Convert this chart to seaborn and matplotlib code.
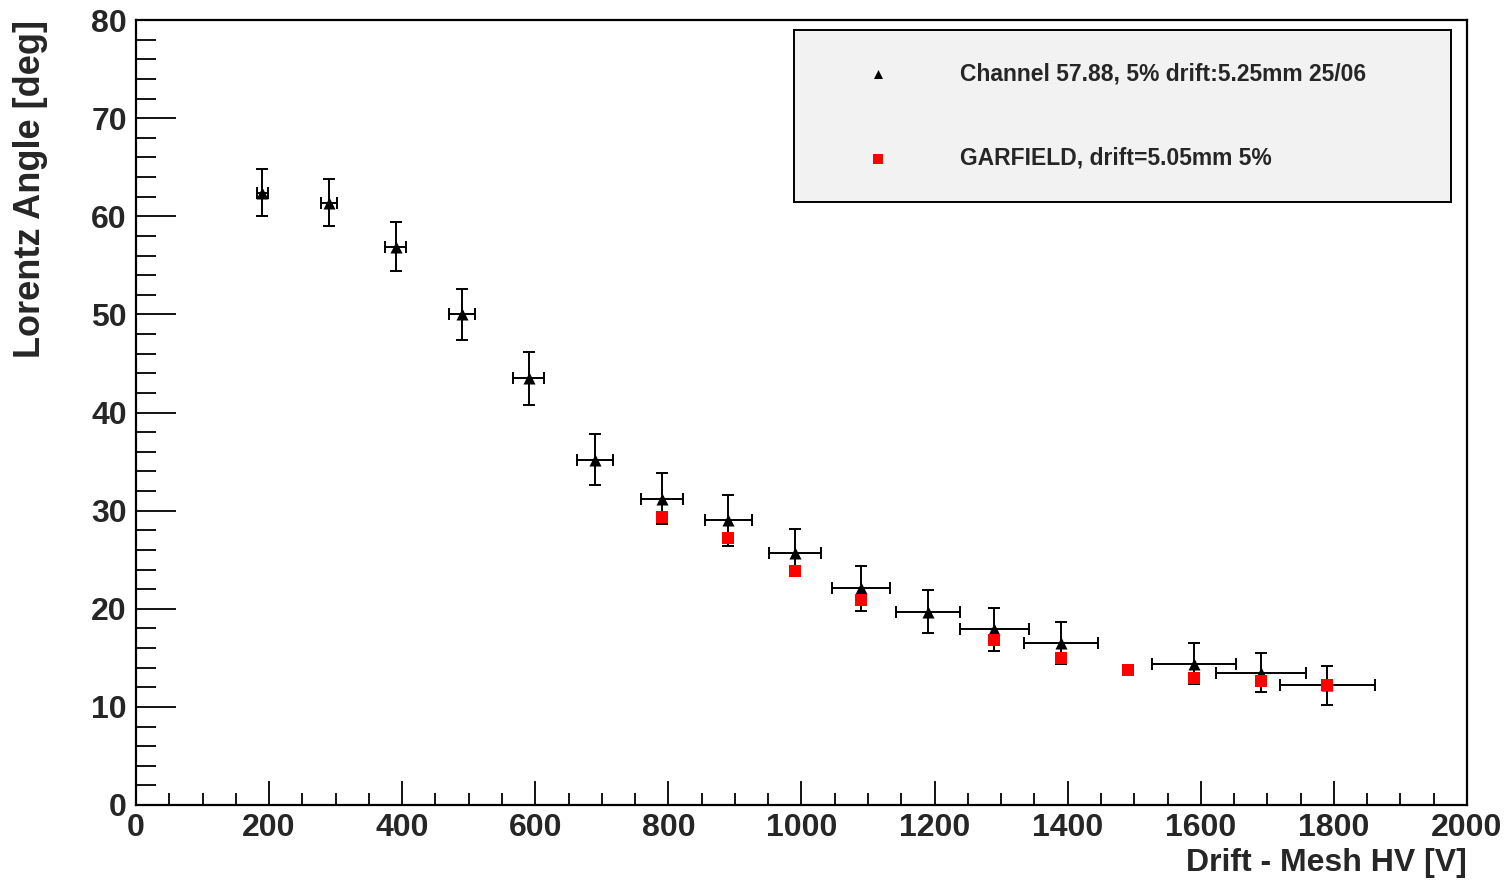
import numpy as np
import pandas as pd
import matplotlib
matplotlib.use("Agg")
import matplotlib.pyplot as plt
import seaborn as sns
from matplotlib.ticker import MultipleLocator

# ---- data ----
hv_meas = [190, 290, 390, 490, 590, 690, 790, 890, 990, 1090, 1190, 1290, 1390, 1590, 1690, 1790]
angle_meas = [62.4, 61.4, 56.9, 50.0, 43.5, 35.2, 31.2, 29.0, 25.7, 22.1, 19.7, 17.9, 16.5, 14.4, 13.5, 12.2]
hv_err = [8, 12.5, 15.5, 19.5, 23.5, 27.5, 31.5, 35.5, 39.5, 43.5, 47.5, 51.5, 55.5, 63.5, 67.5, 71.5]
angle_err = [2.4, 2.4, 2.5, 2.6, 2.7, 2.6, 2.6, 2.6, 2.4, 2.3, 2.2, 2.2, 2.1, 2.1, 2.0, 2.0]

hv_garf = [790, 890, 990, 1090, 1290, 1390, 1490, 1590, 1690, 1790]
angle_garf = [29.4, 27.2, 23.8, 20.9, 16.8, 14.95, 13.8, 12.9, 12.6, 12.2]

label_meas = "Channel 57.88, 5% drift:5.25mm 25/06"
label_garf = "GARFIELD, drift=5.05mm 5%"
xlabel = "Drift - Mesh HV [V]"
ylabel = "Lorentz Angle [deg]"

meas = pd.DataFrame({"hv": hv_meas, "angle": angle_meas, "xerr": hv_err, "yerr": angle_err})
garf = pd.DataFrame({"hv": hv_garf, "angle": angle_garf})

sns.set_style("ticks")
plt.rcParams["font.family"] = ["Liberation Sans", "DejaVu Sans"]
plt.rcParams["font.weight"] = "bold"

fig = plt.figure(figsize=(15.08, 8.89), dpi=100)
ax = fig.add_axes([136 / 1508, 84 / 889, 1331 / 1508, 785 / 889])

ax.errorbar(meas["hv"], meas["angle"], xerr=meas["xerr"], yerr=meas["yerr"],
            fmt="none", ecolor="black", elinewidth=1.4, capsize=4.5, capthick=1.4, zorder=2)
sns.scatterplot(data=meas, x="hv", y="angle", marker="^", color="black", s=75,
                linewidth=0, ax=ax, label=label_meas, zorder=3)
sns.scatterplot(data=garf, x="hv", y="angle", marker="s", color="#ff0000", s=80,
                linewidth=0, ax=ax, label=label_garf, zorder=4)

ax.set_xlim(0, 2000)
ax.set_ylim(0, 80)
ax.xaxis.set_major_locator(MultipleLocator(200))
ax.xaxis.set_minor_locator(MultipleLocator(50))
ax.yaxis.set_major_locator(MultipleLocator(10))
ax.yaxis.set_minor_locator(MultipleLocator(2))

ax.tick_params(axis="both", which="both", direction="in", top=False, right=False, width=1.3, color="black")
ax.tick_params(axis="x", which="major", length=17, pad=6, labelsize=23)
ax.tick_params(axis="x", which="minor", length=8.5)
ax.tick_params(axis="y", which="major", length=29, pad=6.5, labelsize=23)
ax.tick_params(axis="y", which="minor", length=14.5)
for lab in ax.get_xticklabels() + ax.get_yticklabels():
    lab.set_fontweight("bold")

for sp in ax.spines.values():
    sp.set_visible(True)
    sp.set_linewidth(1.6)
    sp.set_color("black")

ax.set_xlabel(xlabel, fontsize=23, fontweight="bold", loc="right")
ax.xaxis.set_label_coords(1.0, -(848 - 805) / 785)
ax.set_ylabel(ylabel, fontsize=26, fontweight="bold", loc="top")
ax.yaxis.set_label_coords(-(136 - 48) / 1331, 1.0)

leg = ax.legend(loc="upper left", bbox_to_anchor=(0.4944, 0.768, 0.4936, 0.2193), mode="expand",
                fontsize=16.5, frameon=True, fancybox=False, framealpha=1,
                facecolor="#f2f2f2", edgecolor="black", borderpad=1.42,
                labelspacing=2.68, handlelength=4.5, handletextpad=1.3, borderaxespad=0,
                markerscale=0.75)
leg.get_frame().set_linewidth(1.4)
for t in leg.get_texts():
    t.set_fontweight("bold")

fig.savefig("out.png", dpi=100, facecolor="white")
